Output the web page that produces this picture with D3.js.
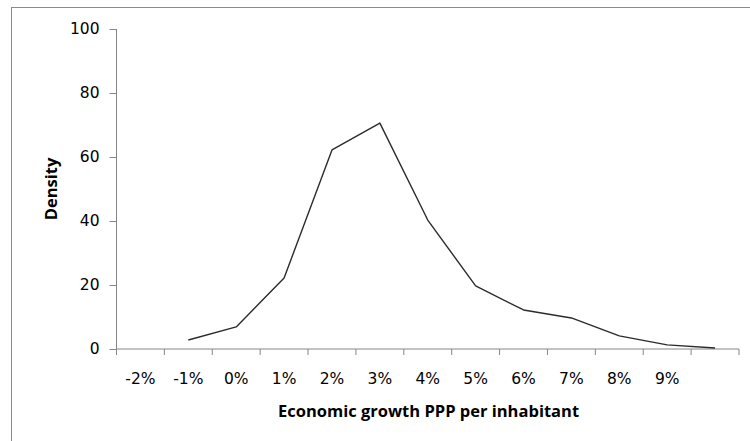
<!DOCTYPE html>
<html>
<head>
<meta charset="utf-8">
<script src="https://cdn.jsdelivr.net/npm/d3@7"></script>
<style>
  body { margin: 0; background: #fff; }
  svg { display: block; }
</style>
</head>
<body>
<svg width="750" height="441"></svg>
<script>
// categories on the x axis (last one has no label)
var categories = ["-2%", "-1%", "0%", "1%", "2%", "3%", "4%", "5%", "6%", "7%", "8%", "9%", ""];
// density per category (null = no point)
var density = [null, 2.8, 6.9, 22.2, 62.2, 70.6, 40.3, 19.7, 12.2, 9.7, 4.1, 1.3, 0.3];
var yTicks = [0, 20, 40, 60, 80, 100];

var svg = d3.select("svg"),
    width = +svg.attr("width"),
    height = +svg.attr("height");

var margin = {top: 29, right: 11, bottom: 92, left: 116.5};

// chart area border
svg.append("rect")
    .attr("x", 11.5)
    .attr("y", 7.5)
    .attr("width", 800)
    .attr("height", 500)
    .attr("fill", "none")
    .attr("stroke", "#8a8a8a")
    .attr("stroke-width", 1);

var x = d3.scaleBand()
    .domain(categories.map(function(d, i) { return i; }))
    .range([margin.left, width - margin.right]);

var y = d3.scaleLinear()
    .domain([0, 100])
    .range([height - margin.bottom, margin.top]);

var axisColor = "#868686";
var labelFont = "'DejaVu Sans', Verdana, sans-serif";
var titleFont = "'Open Sans', Lato, sans-serif";

// y axis
var yAxis = svg.append("g")
    .attr("transform", "translate(" + margin.left + ",0)")
    .call(d3.axisLeft(y).tickValues(yTicks).tickSize(7).tickPadding(10));
yAxis.select(".domain").attr("stroke", axisColor).attr("d", "M0," + y(0) + "V" + y(100));
yAxis.selectAll(".tick line").attr("stroke", axisColor);
yAxis.selectAll("text")
    .attr("fill", "#000")
    .style("font-family", labelFont)
    .style("font-size", "15.5px");

// x axis: ticks at band boundaries, labels at band centres
var xg = svg.append("g")
    .attr("transform", "translate(0," + y(0) + ")");
xg.append("line")
    .attr("x1", x.range()[0]).attr("x2", x.range()[1])
    .attr("stroke", axisColor);
var bounds = x.domain().map(function(d) { return x(d); }).concat([x.range()[1]]);
xg.selectAll(".tk").data(bounds).enter().append("line")
    .attr("x1", function(d) { return d; }).attr("x2", function(d) { return d; })
    .attr("y1", 0).attr("y2", 6)
    .attr("stroke", axisColor);
xg.selectAll(".lbl").data(categories).enter().append("text")
    .attr("x", function(d, i) { return x(i) + x.bandwidth() / 2; })
    .attr("y", 35)
    .attr("text-anchor", "middle")
    .attr("fill", "#000")
    .style("font-family", labelFont)
    .style("font-size", "15.5px")
    .text(function(d) { return d; });

// density line
var line = d3.line()
    .defined(function(d) { return d != null; })
    .x(function(d, i) { return x(i) + x.bandwidth() / 2; })
    .y(function(d) { return y(d); });

svg.append("path")
    .datum(density)
    .attr("fill", "none")
    .attr("stroke", "#2b2b2b")
    .attr("stroke-width", 1.4)
    .attr("stroke-linejoin", "round")
    .attr("d", line);

// axis titles
svg.append("text")
    .attr("x", 428.5)
    .attr("y", 417)
    .attr("text-anchor", "middle")
    .style("font-family", titleFont)
    .style("font-weight", "bold")
    .style("font-size", "16.5px")
    .attr("fill", "#000")
    .text("Economic growth PPP per inhabitant");

svg.append("text")
    .attr("transform", "translate(57,189) rotate(-90)")
    .attr("text-anchor", "middle")
    .style("font-family", titleFont)
    .style("font-weight", "bold")
    .style("font-size", "16.5px")
    .attr("fill", "#000")
    .text("Density");
</script>
</body>
</html>
